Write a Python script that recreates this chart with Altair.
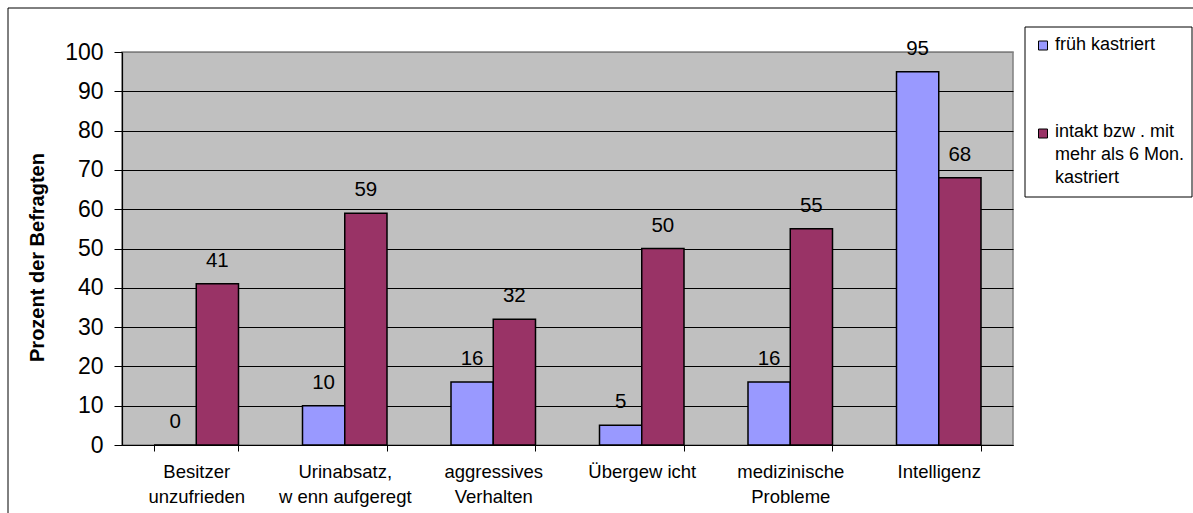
import altair as alt
import pandas as pd

# Survey results: share of respondents (%) per topic, early-neutered vs. intact / later neutered
categories = [
    "Besitzer|unzufrieden",
    "Urinabsatz,|w enn aufgeregt",
    "aggressives|Verhalten",
    "Übergew icht",
    "medizinische|Probleme",
    "Intelligenz",
]
series = ["früh kastriert", "intakt bzw . mit mehr als 6 Mon. kastriert"]
frueh_kastriert = [0, 10, 16, 5, 16, 95]
intakt_spaet = [41, 59, 32, 50, 55, 68]
y_ticks = list(range(0, 101, 10))

colors = ["#9999FF", "#993366"]

rows = []
for cat, a, b in zip(categories, frueh_kastriert, intakt_spaet):
    rows.append({"Kategorie": cat, "Gruppe": series[0], "Wert": a})
    rows.append({"Kategorie": cat, "Gruppe": series[1], "Wert": b})
df = pd.DataFrame(rows)

W, H = 891, 393
FONT = "Liberation Sans"

x_enc = alt.X(
    "Kategorie:N",
    sort=categories,
    scale=alt.Scale(paddingInner=0.431, paddingOuter=0.2155),
    axis=alt.Axis(
        title=None,
        labelAngle=0,
        labelExpr="split(datum.label, '|')",
        labelFontSize=18.5,
        labelLineHeight=25,
        labelBaseline="top",
        labelPadding=11,
        labelColor="black",
        labelFont=FONT,
        labelOverlap=False,
        tickBand="extent",
        tickSize=6,
        tickColor="black",
        domainColor="black",
        domainWidth=1.2,
        grid=False,
    ),
)
xoff_enc = alt.XOffset("Gruppe:N", sort=series, scale=alt.Scale(paddingInner=0, paddingOuter=0))
y_enc = alt.Y(
    "Wert:Q",
    scale=alt.Scale(domain=[0, 100], nice=False),
    axis=alt.Axis(
        title="Prozent der Befragten",
        titleFont=FONT,
        titleFontSize=20,
        titleFontWeight="bold",
        titleColor="black",
        titleX=-85,
        titleY=205,
        titleAlign="center",
        titleBaseline="middle",
        titleAngle=270,
        values=y_ticks,
        tickCount=11,
        labelOverlap=False,
        labelFontSize=23,
        labelFont=FONT,
        labelColor="black",
        labelPadding=11,
        tickSize=8,
        tickColor="black",
        domainColor="black",
        domainWidth=1.2,
        grid=True,
        gridColor={"condition": {"test": "datum.value >= 100", "value": "#808080"}, "value": "black"},
        gridWidth=1,
    ),
)
color_enc = alt.Color("Gruppe:N", sort=series, scale=alt.Scale(domain=series, range=colors), legend=None)

bars = alt.Chart(df).mark_bar(stroke="black", strokeWidth=1.5).encode(
    x=x_enc, xOffset=xoff_enc, y=y_enc, color=color_enc
)

labels = alt.Chart(df).mark_text(
    fontSize=20.5, font=FONT, color="black", baseline="alphabetic", dy=-17
).encode(
    x=x_enc,
    xOffset=xoff_enc,
    y=y_enc,
    text="Wert:Q",
)

# Outer frame around the whole figure
frame = alt.Chart(pd.DataFrame({"k": [0]})).mark_rect(
    fill=None, stroke="black", strokeWidth=1
).encode(
    x=alt.value(-114), x2=alt.value(1200), y=alt.value(-44), y2=alt.value(600)
)

# Legend box and entries
legend_box = alt.Chart(pd.DataFrame({"k": [0]})).mark_rect(
    fill="white", stroke="black", strokeWidth=1
).encode(
    x=alt.value(903), x2=alt.value(1070), y=alt.value(-25), y2=alt.value(145)
)

legend_layers = []
legend_pos = [(-6.5, -7, [series[0]]), (81.5, 80, ["intakt bzw . mit", "mehr als 6 Mon.", "kastriert"])]
for (sym_y, txt_y, lines), name in zip(legend_pos, series):
    item = pd.DataFrame({"Gruppe": [name]})
    sym = alt.Chart(item).mark_square(size=81, stroke="black", strokeWidth=1, opacity=1, filled=True).encode(
        x=alt.value(921), y=alt.value(sym_y), color=color_enc
    )
    txt = alt.Chart(item).mark_text(
        text=lines, align="left", baseline="middle", fontSize=18, font=FONT,
        color="black", lineHeight=23
    ).encode(x=alt.value(933), y=alt.value(txt_y))
    legend_layers += [sym, txt]

chart = alt.layer(frame, bars, labels, legend_box, *legend_layers).properties(
    width=W,
    height=H,
    autosize=alt.AutoSizeParams(type="none"),
    padding={"left": 122, "top": 52, "right": 180, "bottom": 68},
    background="white",
).configure_view(
    fill="#C0C0C0", stroke="#808080", strokeWidth=1.5
)

chart.save("out.html", embed_options={"renderer": "svg", "actions": False})
